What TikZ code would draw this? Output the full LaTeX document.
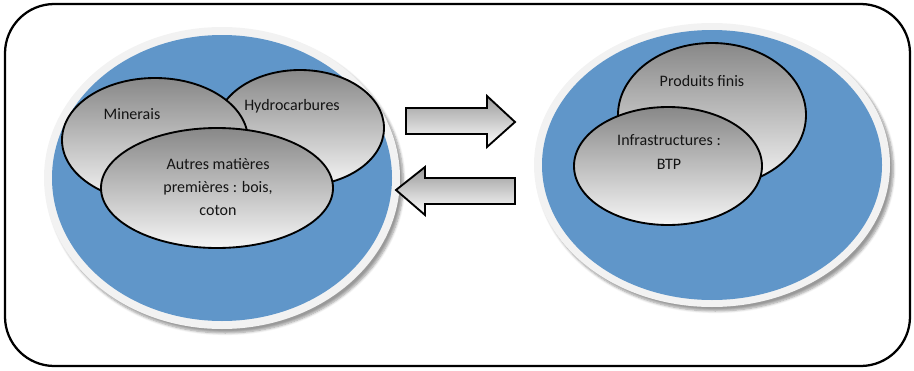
\documentclass[tikz,border=0pt]{standalone}
\usepackage{fontspec}
\setmainfont{Carlito}
\usetikzlibrary{shapes.geometric,shadows.blur}
\definecolor{bblue}{RGB}{96,150,201}
\definecolor{rim}{RGB}{242,242,242}
\definecolor{gtop}{RGB}{136,136,136}
\tikzset{
  bub/.style={ellipse, draw=black, line width=1.4pt, inner sep=0pt, top color=gtop, bottom color=white!96!black},
  halo/.style={ellipse, inner sep=0pt, fill=rim, blur shadow={shadow xshift=2.5pt, shadow yshift=-3pt, shadow blur steps=6, shadow opacity=40}},
  blue/.style={ellipse, inner sep=0pt, fill=bblue},
  lbl/.style={font=\fontsize{12}{17.6}\selectfont, align=center, inner sep=0pt, text=black!92},
  arr/.style={draw=black, line width=1.4pt, line join=miter, top color=gtop!85!white, bottom color=white}
}
\begin{document}
\begin{tikzpicture}[x=0.75pt,y=-0.75pt]
\useasboundingbox (0,0) rectangle (914,371);
\draw[line width=1.7pt, rounded corners=37pt] (5,4) rectangle (910,366);
% left group
\node[halo, minimum width=267pt, minimum height=226.5pt] (lh) at (222,178) {};
\node[blue, minimum width=255pt, minimum height=214.5pt] (lb) at (222,178) {};
\node[bub, minimum width=126pt, minimum height=87pt] (hyd) at (300,128) {};
\node[bub, minimum width=139.5pt, minimum height=93pt] (min) at (155,140) {};
\node[bub, minimum width=174pt, minimum height=90pt] (aut) at (217,188) {};
\node[lbl] (tmin) at (132,114) {Minerais};
\node[lbl] (thyd) at (292,106) {Hydrocarbures};
\node[lbl] (taut) at (218,187) {Autres matières\\premières : bois,\\coton};
% arrows
\path[arr] (406,108) -- (487,108) -- (487,96) -- (515,122) -- (487,147) -- (487,134) -- (406,134) -- cycle;
\path[arr] (515,178) -- (425,178) -- (425,167) -- (396,190) -- (425,215) -- (425,204) -- (515,204) -- cycle;
% right group
\node[halo, minimum width=267pt, minimum height=213pt] (rh) at (712,165) {};
\node[blue, minimum width=255pt, minimum height=202.5pt] (rb) at (712,165) {};
\node[bub, minimum width=141pt, minimum height=108pt] (prod) at (712,115) {};
\node[bub, minimum width=141pt, minimum height=88.5pt] (inf) at (668,166) {};
\node[lbl] (tprod) at (702,81) {Produits finis};
\node[lbl] (tinf) at (669,152) {Infrastructures :\\BTP};
\end{tikzpicture}
\end{document}
